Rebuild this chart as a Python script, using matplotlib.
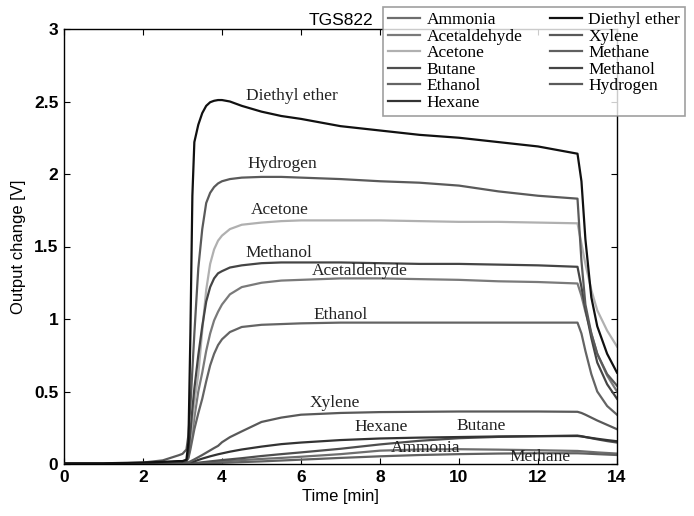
import matplotlib
matplotlib.use("Agg")
import matplotlib.pyplot as plt

# ---------------- data ----------------
time_min = [0, 1, 2, 2.5, 2.9, 3.0, 3.1, 3.15, 3.2, 3.25, 3.3, 3.4, 3.5, 3.6, 3.7, 3.8,
            3.9, 4.0, 4.2, 4.5, 5.0, 5.5, 6, 7, 8, 9, 10, 11, 12, 13.0, 13.1, 13.2,
            13.35, 13.5, 13.75, 14]

ammonia = [0, 0, 0, 0, 0, 0, 0, 0, 0.001, 0.002, 0.003, 0.005, 0.007, 0.009, 0.011, 0.013,
           0.015, 0.017, 0.021, 0.027, 0.035, 0.042, 0.05, 0.068, 0.092, 0.1, 0.102, 0.099,
           0.095, 0.09, 0.088, 0.086, 0.083, 0.08, 0.076, 0.072]
acetaldehyde = [0, 0, 0.005, 0.01, 0.015, 0.015, 0.02, 0.05, 0.13, 0.22, 0.32, 0.5, 0.63,
                0.78, 0.9, 0.99, 1.05, 1.1, 1.17, 1.22, 1.25, 1.265, 1.27, 1.28, 1.28, 1.275,
                1.27, 1.26, 1.255, 1.245, 1.16, 1.05, 0.9, 0.76, 0.61, 0.50]
acetone = [0, 0, 0.005, 0.01, 0.015, 0.015, 0.02, 0.06, 0.16, 0.3, 0.42, 0.62, 0.92, 1.2,
           1.38, 1.48, 1.54, 1.575, 1.62, 1.65, 1.665, 1.675, 1.68, 1.68, 1.68, 1.675, 1.67,
           1.67, 1.665, 1.66, 1.52, 1.38, 1.2, 1.06, 0.92, 0.81]
butane = [0, 0, 0, 0, 0, 0, 0, 0, 0.002, 0.004, 0.006, 0.009, 0.012, 0.015, 0.018, 0.021,
          0.024, 0.027, 0.032, 0.04, 0.055, 0.068, 0.08, 0.105, 0.135, 0.16, 0.178, 0.187,
          0.192, 0.196, 0.192, 0.186, 0.178, 0.17, 0.158, 0.148]
ethanol = [0, 0, 0.005, 0.01, 0.015, 0.015, 0.02, 0.04, 0.1, 0.17, 0.24, 0.35, 0.45, 0.57,
           0.68, 0.76, 0.82, 0.86, 0.91, 0.945, 0.96, 0.965, 0.97, 0.975, 0.975, 0.975,
           0.975, 0.975, 0.975, 0.975, 0.9, 0.78, 0.62, 0.5, 0.4, 0.34]
hexane = [0, 0, 0, 0, 0, 0, 0, 0, 0.006, 0.012, 0.018, 0.028, 0.037, 0.045, 0.053, 0.06,
          0.067, 0.073, 0.085, 0.1, 0.12, 0.137, 0.148, 0.165, 0.176, 0.182, 0.186, 0.19,
          0.192, 0.193, 0.19, 0.186, 0.18, 0.174, 0.165, 0.157]
diethyl_ether = [0.005, 0.005, 0.01, 0.015, 0.02, 0.02, 0.03, 0.15, 0.9, 1.85, 2.22, 2.34,
                 2.42, 2.47, 2.495, 2.505, 2.51, 2.51, 2.5, 2.47, 2.43, 2.4, 2.38, 2.33,
                 2.3, 2.27, 2.25, 2.22, 2.19, 2.14, 1.95, 1.55, 1.15, 0.95, 0.76, 0.63]
xylene = [0, 0, 0.005, 0.005, 0.01, 0.01, 0.01, 0.012, 0.018, 0.025, 0.032, 0.047, 0.062,
          0.078, 0.094, 0.11, 0.125, 0.15, 0.185, 0.225, 0.29, 0.32, 0.34, 0.352, 0.358,
          0.36, 0.362, 0.362, 0.362, 0.36, 0.352, 0.34, 0.32, 0.3, 0.27, 0.24]
methane = [0, 0, 0, 0, 0, 0, 0, 0, 0.001, 0.001, 0.002, 0.003, 0.004, 0.005, 0.006, 0.007,
           0.0075, 0.008, 0.01, 0.013, 0.018, 0.024, 0.03, 0.042, 0.053, 0.062, 0.068,
           0.072, 0.074, 0.074, 0.073, 0.072, 0.07, 0.068, 0.065, 0.062]
methanol = [0, 0, 0.005, 0.01, 0.015, 0.015, 0.02, 0.08, 0.22, 0.38, 0.52, 0.75, 0.95, 1.12,
            1.22, 1.28, 1.315, 1.33, 1.355, 1.37, 1.385, 1.39, 1.39, 1.39, 1.385, 1.38,
            1.38, 1.375, 1.37, 1.36, 1.22, 1.07, 0.87, 0.70, 0.55, 0.45]
hydrogen = [0, 0, 0.01, 0.025, 0.06, 0.07, 0.1, 0.2, 0.4, 0.65, 0.9, 1.35, 1.62, 1.8, 1.87,
            1.91, 1.935, 1.95, 1.965, 1.975, 1.98, 1.98, 1.975, 1.965, 1.95, 1.94, 1.92,
            1.88, 1.85, 1.83, 1.40, 1.10, 0.9, 0.76, 0.62, 0.54]

series_names = ["Ammonia", "Acetaldehyde", "Acetone", "Butane", "Ethanol", "Hexane",
                "Diethyl ether", "Xylene", "Methane", "Methanol", "Hydrogen"]
series_values = [ammonia, acetaldehyde, acetone, butane, ethanol, hexane,
                 diethyl_ether, xylene, methane, methanol, hydrogen]
series_colors = ["#6e6e6e", "#7a7a7a", "#b0b0b0", "#4e4e4e", "#646464", "#333333",
                 "#111111", "#595959", "#606060", "#454545", "#5a5a5a"]

# curve labels: (text, t, value)
curve_labels = [("Diethyl ether", 5.77, 2.54), ("Hydrogen", 5.52, 2.07),
                ("Acetone", 5.47, 1.75), ("Methanol", 5.44, 1.455),
                ("Acetaldehyde", 7.49, 1.33), ("Ethanol", 6.99, 1.03),
                ("Xylene", 6.86, 0.42), ("Hexane", 8.03, 0.255),
                ("Butane", 10.56, 0.26), ("Ammonia", 9.16, 0.112),
                ("Methane", 12.05, 0.048)]

x_ticks = [0, 2, 4, 6, 8, 10, 12, 14]
y_ticks = [0, 0.5, 1, 1.5, 2, 2.5, 3]
y_tick_labels = ["0", "0.5", "1", "1.5", "2", "2.5", "3"]

# ---------------- figure ----------------
fig = plt.figure(figsize=(6.94, 5.16), dpi=100)
ax = fig.add_axes([64 / 694, 52 / 516, 553 / 694, 435 / 516])

handles = []
for name, vals, col in zip(series_names, series_values, series_colors):
    z = 3 if name == "Diethyl ether" else 2
    h, = ax.plot(time_min, vals, color=col, lw=1.6, label=name, zorder=z)
    handles.append(h)

serif = ["Liberation Serif", "DejaVu Serif"]
sans = ["Liberation Sans", "DejaVu Sans"]
for txt, tx, ty in curve_labels:
    ax.text(tx, ty, txt, family=serif, fontsize=12.5, color="#222222",
            ha="center", va="center", zorder=4)

ax.set_xlim(0, 14)
ax.set_ylim(0, 3)
ax.set_xticks(x_ticks)
ax.set_yticks(y_ticks)
ax.set_yticklabels(y_tick_labels)
ax.tick_params(direction="in", top=True, right=True, length=4, width=0.8,
               labelsize=12.5, pad=4)
for lab in ax.get_xticklabels() + ax.get_yticklabels():
    lab.set_family(sans)
    lab.set_fontweight("bold")
for s in ax.spines.values():
    s.set_linewidth(1.0)
    s.set_color("black")

ax.set_xlabel("Time [min]", family=sans, fontsize=12, labelpad=3)
ax.set_ylabel("Output change [V]", family=sans, fontsize=12, labelpad=6)
ax.set_title("TGS822", family=sans, fontsize=12.5, pad=3)

leg = fig.legend(handles=handles, labels=series_names, ncol=2,
                 loc="upper left", bbox_to_anchor=(383 / 694, 1 - 7 / 516),
                 prop={"family": serif, "size": 12.5}, frameon=True, fancybox=False,
                 edgecolor="#888888", handlelength=1.85, handletextpad=0.35,
                 labelspacing=0.02, columnspacing=1.6, borderpad=0.3,
                 borderaxespad=0)
leg.get_frame().set_linewidth(1.2)

fig.savefig("out.png", dpi=100)
